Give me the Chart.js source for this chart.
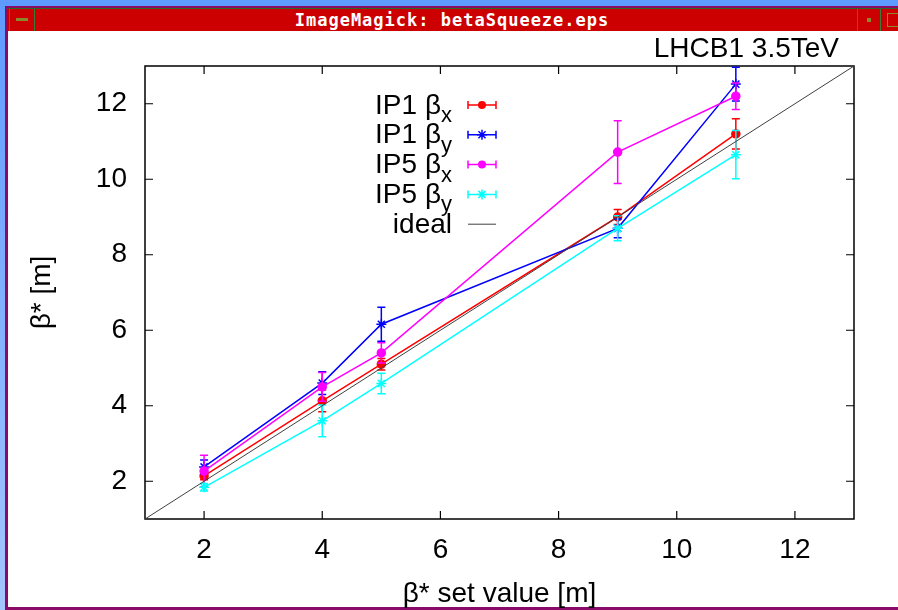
<!DOCTYPE html>
<html>
<head>
<meta charset="utf-8">
<script src="https://cdn.jsdelivr.net/npm/chart.js"></script>
<style>
  html, body { margin:0; padding:0; }
  body { width:898px; height:610px; overflow:hidden; position:relative;
         background:linear-gradient(#5e9bff, #a4c6ff); font-family:"Liberation Sans", Arial, sans-serif; }
  #frame { position:absolute; left:5px; top:6px; right:0; bottom:0; background:#8a0a6a; }
  #titlebar { position:absolute; left:7px; top:8px; right:0; height:23px; background:#cc0000;
              border-top:1px solid #2a6a2a; box-sizing:border-box; }
  #titletext { position:absolute; left:0; width:890px; top:1px; text-align:center; color:#fff;
               font:bold 17px "DejaVu Sans Mono", "Liberation Mono", monospace; letter-spacing:1px; line-height:21px; }
  .btn { position:absolute; top:0; height:22px; box-sizing:border-box; border-left:1px solid #3a7a3a; border-right:1px solid #3a7a3a; }
  #btnL { left:2px; width:26px; }
  #btnL::after { content:""; position:absolute; left:6px; top:9px; width:12px; height:3px; background:#8a8a2a; }
  #btnR1 { left:850px; width:24px; }
  #btnR1::after { content:""; position:absolute; left:9px; top:9px; width:4px; height:4px; background:#8a8a2a; }
  #btnR2 { left:873px; width:30px; }
  #btnR2::after { content:""; position:absolute; left:6px; top:4px; width:12px; height:12px; border:1px solid #8a8a2a; }
  #content { position:absolute; left:8px; top:31px; right:0; bottom:3px; background:#fff; }
  #chart { position:absolute; left:0; top:0; }
</style>
</head>
<body>
<div id="frame"></div>
<div id="titlebar">
  <div class="btn" id="btnL"></div>
  <div id="titletext">ImageMagick: betaSqueeze.eps</div>
  <div class="btn" id="btnR1"></div>
  <div class="btn" id="btnR2"></div>
</div>
<div id="content"></div>
<canvas id="chart" width="898" height="610"></canvas>
<script>
// ---- data ----
const setValues   = [2, 4, 5, 9, 11];
const ip1BetaX    = [2.14, 4.13, 5.10, 9.00, 11.20];
const ip1BetaXErr = [0.10, 0.29, 0.15, 0.20, 0.40];
const ip1BetaY    = [2.38, 4.60, 6.16, 8.70, 12.52];
const ip1BetaYErr = [0.18, 0.30, 0.45, 0.25, 0.45];
const ip5BetaX    = [2.27, 4.50, 5.40, 10.72, 12.20];
const ip5BetaXErr = [0.42, 0.38, 0.27, 0.83, 0.35];
const ip5BetaY    = [1.84, 3.60, 4.59, 8.70, 10.65];
const ip5BetaYErr = [0.10, 0.42, 0.27, 0.33, 0.64];
const idealX      = [1, 13];
const idealY      = [1, 13];
const seriesNames = ['IP1 β_x', 'IP1 β_y', 'IP5 β_x', 'IP5 β_y', 'ideal'];
const seriesColors = ['#ff0000', '#0000ff', '#ff00ff', '#00ffff', '#404040'];
const xTicks = [2, 4, 6, 8, 10, 12];
const yTicks = [2, 4, 6, 8, 10, 12];
const chartTitle = 'LHCB1 3.5TeV';
const xTitle = 'β* set value [m]';
const yTitle = 'β* [m]';

const FONT = '"Liberation Sans", Arial, Helvetica, sans-serif';
const pts = (xs, ys) => xs.map((x, i) => ({x, y: ys[i]}));

function drawMarker(ctx, style, x, y, r, color) {
  ctx.save();
  ctx.strokeStyle = color; ctx.fillStyle = color; ctx.lineWidth = 1.5;
  if (style === 'circle') {
    ctx.beginPath(); ctx.arc(x, y, r, 0, Math.PI * 2); ctx.fill();
  } else if (style === 'star') {
    ctx.beginPath();
    for (let k = 0; k < 4; k++) {
      const a = k * Math.PI / 4;
      ctx.moveTo(x - r * Math.cos(a), y - r * Math.sin(a));
      ctx.lineTo(x + r * Math.cos(a), y + r * Math.sin(a));
    }
    ctx.stroke();
  }
  ctx.restore();
}

function series(i, ys, errs, style) {
  return {
    label: seriesNames[i],
    data: pts(setValues, ys),
    errors: errs,
    borderColor: seriesColors[i],
    backgroundColor: seriesColors[i],
    borderWidth: 1.5,
    pointStyle: style,
    pointRadius: style === 'circle' ? 4 : 5,
    pointBorderWidth: 1.5,
    pointBackgroundColor: seriesColors[i],
    pointBorderColor: seriesColors[i],
    fill: false,
    tension: 0,
    order: 10 - i
  };
}

const errorBars = {
  id: 'errorBars',
  afterDatasetDraw(chart, args) {
    const ds = chart.data.datasets[args.index];
    if (!ds.errors) return;
    const {ctx, scales: {x, y}} = chart;
    ctx.save();
    ctx.strokeStyle = ds.borderColor; ctx.lineWidth = 1.5;
    ds.data.forEach((p, k) => {
      const e = ds.errors[k];
      const px = x.getPixelForValue(p.x);
      const y1 = y.getPixelForValue(p.y - e), y2 = y.getPixelForValue(p.y + e);
      ctx.beginPath();
      ctx.moveTo(px, y1); ctx.lineTo(px, y2);
      ctx.moveTo(px - 4, y1); ctx.lineTo(px + 4, y1);
      ctx.moveTo(px - 4, y2); ctx.lineTo(px + 4, y2);
      ctx.stroke();
    });
    ctx.restore();
  }
};

const frameTicks = {
  id: 'frameTicks',
  beforeDatasetsDraw(chart) {
    const {ctx, chartArea: a, scales: {x, y}} = chart;
    ctx.save();
    ctx.strokeStyle = '#000'; ctx.lineWidth = 1.2;
    ctx.beginPath();
    x.ticks.forEach(t => {
      const px = x.getPixelForValue(t.value);
      ctx.moveTo(px, a.bottom); ctx.lineTo(px, a.bottom - 8);
      ctx.moveTo(px, a.top); ctx.lineTo(px, a.top + 8);
    });
    y.ticks.forEach(t => {
      const py = y.getPixelForValue(t.value);
      ctx.moveTo(a.left, py); ctx.lineTo(a.left + 8, py);
      ctx.moveTo(a.right, py); ctx.lineTo(a.right - 8, py);
    });
    ctx.stroke();
    ctx.lineWidth = 1.5;
    ctx.strokeRect(a.left, a.top, a.right - a.left, a.bottom - a.top);
    ctx.restore();
  }
};

const legendTitle = {
  id: 'legendTitle',
  afterDraw(chart) {
    const {ctx} = chart;
    ctx.save();
    ctx.fillStyle = '#000';
    ctx.textBaseline = 'alphabetic';
    // title
    ctx.font = '28px ' + FONT;
    ctx.textAlign = 'right';
    ctx.fillText(chartTitle, 839, 57);
    // legend
    const textRight = 452, lineL = 468, lineR = 496;
    chart.data.datasets.forEach((ds, i) => {
      const cy = 105 + i * 29.8;
      const [main, sub] = ds.label.split('_');
      ctx.font = '28px ' + FONT;
      const wMain = ctx.measureText(main).width;
      ctx.font = '22px ' + FONT;
      const wSub = sub ? ctx.measureText(sub).width : 0;
      const start = textRight - wMain - wSub;
      ctx.textAlign = 'left';
      ctx.fillStyle = '#000';
      ctx.font = '28px ' + FONT;
      ctx.fillText(main, start, cy + 8.5);
      if (sub) { ctx.font = '22px ' + FONT; ctx.fillText(sub, start + wMain, cy + 17); }
      ctx.strokeStyle = ds.borderColor;
      ctx.lineWidth = ds.errors ? 1.5 : 1;
      ctx.beginPath();
      ctx.moveTo(lineL, cy); ctx.lineTo(lineR, cy);
      if (ds.errors) {
        ctx.moveTo(lineL, cy - 4); ctx.lineTo(lineL, cy + 4);
        ctx.moveTo(lineR, cy - 4); ctx.lineTo(lineR, cy + 4);
      }
      ctx.stroke();
      if (ds.errors) drawMarker(ctx, ds.pointStyle, (lineL + lineR) / 2, cy, ds.pointRadius, ds.borderColor);
    });
    ctx.restore();
  }
};

new Chart(document.getElementById('chart'), {
  type: 'line',
  data: {
    datasets: [
      series(0, ip1BetaX, ip1BetaXErr, 'circle'),
      series(1, ip1BetaY, ip1BetaYErr, 'star'),
      series(2, ip5BetaX, ip5BetaXErr, 'circle'),
      series(3, ip5BetaY, ip5BetaYErr, 'star'),
      {
        label: seriesNames[4],
        data: pts(idealX, idealY),
        borderColor: seriesColors[4],
        borderWidth: 1,
        pointRadius: 0,
        fill: false,
        order: 0
      }
    ]
  },
  options: {
    responsive: false,
    animation: false,
    devicePixelRatio: 1,
    layout: { padding: { left: 0, top: 66, right: 44, bottom: 0 } },
    plugins: { legend: { display: false }, tooltip: { enabled: false }, title: { display: false } },
    scales: {
      x: {
        type: 'linear', min: 1, max: 13,
        afterBuildTicks: s => { s.ticks = xTicks.map(v => ({value: v})); },
        afterFit: s => { s.height = 91; },
        grid: { display: false }, border: { display: false },
        ticks: { color: '#000', font: { family: FONT, size: 28 }, padding: 6, maxRotation: 0, autoSkip: false },
        title: { display: true, text: xTitle, color: '#000', font: { family: FONT, size: 28, lineHeight: 1 }, padding: { top: 0, bottom: 2 } }
      },
      y: {
        type: 'linear', min: 1, max: 13,
        afterBuildTicks: s => { s.ticks = yTicks.map(v => ({value: v})); },
        afterFit: s => { s.width = 145; },
        grid: { display: false }, border: { display: false },
        ticks: { color: '#000', font: { family: FONT, size: 28 }, padding: 10, autoSkip: false },
        title: { display: true, text: yTitle, color: '#000', font: { family: FONT, size: 28, lineHeight: 1 }, padding: { top: 28, bottom: 0 } }
      }
    }
  },
  plugins: [errorBars, frameTicks, legendTitle]
});
</script>
</body>
</html>
